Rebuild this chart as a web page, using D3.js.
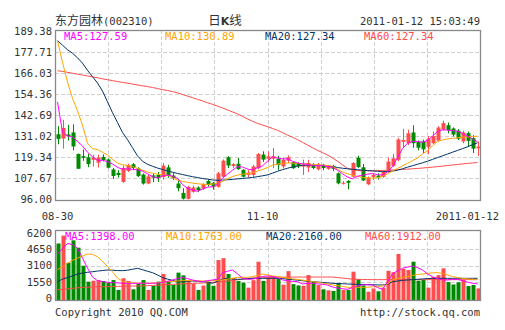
<!DOCTYPE html>
<html><head><meta charset="utf-8">
<script src="https://cdn.jsdelivr.net/npm/d3@7"></script>
<style>
body{margin:0;background:#fff;}
svg{display:block;}
text{font-family:"DejaVu Sans Mono",monospace;font-size:10px;fill:#333;}
</style>
</head><body>
<svg id="c" width="505" height="330"></svg>
<script>
// ---------- data ----------
const openP = [132.0,129.6,131.9,133.0,121.0,119.8,119.2,117.8,116.2,119.4,
118.0,112.4,110.5,105.5,111.6,115.3,113.0,109.6,104.6,109.1,
109.4,108.2,113.6,109.0,104.6,99.4,96.1,100.0,102.4,101.8,
106.0,105.0,102.8,108.4,119.2,114.3,115.6,112.2,109.4,109.4,
113.1,120.7,118.4,118.4,118.4,114.1,117.3,116.5,116.0,114.0,
113.5,115.0,112.5,115.0,112.8,114.2,110.3,104.6,106.0,108.4,
119.0,113.6,104.2,108.3,109.0,108.3,111.1,114.4,117.8,127.8,
127.0,133.0,127.8,128.0,125.0,127.0,128.5,134.6,137.0,135.2,
134.0,128.0,132.6,129.8,124.2];
const highP = [136.5,140.0,137.2,137.5,121.3,123.5,121.0,120.5,120.6,120.8,
118.5,113.3,112.0,114.6,115.6,116.0,113.6,110.2,109.5,110.3,
111.0,116.0,115.0,110.3,106.0,102.0,103.3,103.5,103.0,104.8,
106.8,105.5,111.0,118.0,119.8,116.0,118.8,112.6,112.0,115.0,
121.5,122.5,122.5,124.4,120.0,119.0,120.2,117.0,116.5,117.9,
117.8,116.0,116.0,115.5,115.0,115.0,110.8,106.0,106.5,116.5,
120.0,115.5,108.5,110.0,110.3,111.5,119.0,121.0,130.0,135.0,
134.5,137.0,128.5,129.0,131.0,133.5,136.5,139.5,138.5,135.8,
134.8,134.0,133.5,131.5,128.0];
const lowP = [126.4,124.0,128.5,123.0,112.7,117.2,113.7,114.0,113.5,116.9,
113.0,107.2,107.9,105.0,111.0,112.0,108.2,104.0,104.2,105.4,
105.5,106.8,107.8,106.5,100.3,95.7,95.8,99.5,99.8,101.0,
103.0,101.2,102.3,108.0,113.2,113.2,112.2,108.0,108.2,108.2,
112.5,116.6,116.5,113.1,112.0,113.0,116.0,112.8,113.2,109.4,
111.0,112.5,112.0,112.0,112.2,111.5,104.2,104.0,101.4,108.0,
113.3,106.0,103.7,106.5,106.8,107.8,110.6,113.8,117.0,124.5,
126.0,124.5,123.0,121.5,120.8,126.5,128.0,134.0,132.5,130.8,
128.8,127.0,125.0,121.5,120.0];
const closeP = [129.4,135.5,131.0,125.2,112.8,118.9,115.4,119.0,119.0,117.6,
113.4,108.8,109.3,113.3,114.8,113.2,108.7,104.6,108.6,107.9,
107.7,114.5,108.8,107.6,102.0,96.2,102.7,102.4,100.8,104.2,
103.8,102.8,110.3,117.3,114.6,115.4,112.6,108.4,110.7,114.1,
121.0,117.9,119.7,119.7,115.0,117.8,119.2,113.1,114.2,115.2,
116.0,113.2,115.0,113.2,114.2,112.8,104.7,105.0,105.0,116.0,
113.8,106.3,107.9,109.4,108.0,111.1,116.8,118.6,129.1,128.8,
132.5,127.0,124.5,123.6,129.5,131.0,135.7,138.2,134.2,131.8,
129.5,133.0,128.3,124.0,125.2];
const volume = [5200,5950,3370,5500,4800,3080,1560,1650,1710,1620,
1460,1710,770,1880,1620,830,1340,1710,770,1150,
1560,2290,1620,1240,2420,2160,1620,1340,770,1190,
1520,1160,3620,3800,2290,1880,1620,1460,990,1700,
3460,1630,2030,2030,1840,1270,2560,1320,1200,1160,
2190,1550,1240,830,730,670,1430,760,760,2510,
1790,1200,600,910,640,990,2590,2460,4200,2770,
2670,3460,1650,1715,985,2000,2180,2830,1520,1290,
1500,1715,1145,1240,920];

const ma5 = [150,133,131,130.5,128,125.5,122,119.5,117.5,117.5,
116.8,115.5,113.6,112.5,112.8,112.5,112.2,111.5,110,108.5,
107.5,109,109.3,108.7,107.5,104,102,101,100.3,101.5,
102.6,102.8,104.2,107.6,109.8,112,114,113.8,112.6,112.2,
113.4,114.4,117,119.5,118.8,118.3,118.3,117,116,115.5,
115.3,114.5,114.5,114.6,114,113.6,112,110,108.2,107.2,
108.7,109.2,109.8,110.2,109.5,109.3,111,114,119,124,
127,128,128,127.5,128.5,131,133.5,134.5,134.3,134,
133.7,132.5,131,129.3,127.8];
const ma10 = [184,172,161,152,145,137,127,124,123.5,122,
120.5,118,116,115,114.7,114,113,112,111,110.3,
109.8,109.5,109.2,107.8,106.5,105.8,105.3,104.8,104.5,104.2,
104.1,104.3,104.6,105.8,107.3,108.5,109.3,109.8,110.1,110.6,
111.5,112.4,113.5,114.8,115.4,115.8,116,116,115.8,115.6,
115.4,115.2,115,114.8,114.6,114.2,112.5,111,110,109.3,
108.5,108,107.7,107.6,107.8,108.6,110,111.5,113,114.4,
115.8,117.3,118.8,121,123,125.5,128,128.8,129.4,129.7,
130,130.3,130.5,130.7,130.9];
const ma20 = [184,181.5,179,177,174.5,171.5,167.5,164,160.5,156,
150,144,138.5,133,129,124.5,120,117,115.3,114.2,
113.2,112.4,111.6,110.9,110.2,109.6,109,108.4,107.9,107.4,
107,106.6,106.4,106.5,106.7,106.9,107.2,107.4,107.7,108,
108.4,108.9,109.4,110.4,111.4,112.3,113.1,113.8,114.3,114.7,
114.9,114.9,114.8,114.6,114.3,114,113.5,113.1,112.8,112.5,
112.3,112,111.8,111.6,111.4,111.3,111.2,111.5,112,112.8,
113.7,114.5,115.3,116.1,117,118,119,120,121,122,
123,124,125,126.2,127.2];
const ma60 = [167.3,166.9,166.4,165.9,165.4,164.9,164.4,163.9,163.4,162.8,
162.3,161.8,161.3,160.8,160.4,159.9,159.4,158.9,158.5,158,
157.4,156.8,156.3,155.7,155,154.1,153.2,152.3,151.4,150.5,
149.5,148.6,147.6,146.6,145.5,144.4,143.3,141.9,140.5,139.2,
138,137.1,136.2,135.2,134.2,132.9,131.5,130.3,129,127.5,
126,124.5,123,121.8,120.5,118.8,117,115,113,112.4,
111.8,111.7,111.7,111.7,111.8,111.9,112,112.1,112.3,112.4,
112.6,112.8,113,113.2,113.5,113.7,114,114.3,114.6,114.9,
115.2,115.5,115.8,116,116.3];

const vma5 = [4200,4700,5200,5100,4750,3800,2850,2000,1650,1560,
1500,1470,1440,1410,1400,1400,1400,1410,1400,1400,
1420,1500,1600,1720,1850,1970,1850,1720,1620,1560,
1650,1720,1780,2400,2550,2670,2300,1900,1780,1800,
1900,2050,2100,2050,1950,1720,1650,1580,1560,1340,
1400,1400,1350,1300,1240,1050,950,880,830,1000,
1150,1250,1260,1240,1000,830,1550,2300,2600,2830,
2950,3050,2900,2670,2300,2030,1850,1720,1720,1780,
1780,1650,1520,1400,1350];
const vma10 = [2700,3000,3300,3600,3800,4000,4200,4150,3950,3500,
3000,2500,1900,1600,1480,1460,1420,1400,1400,1420,
1450,1520,1560,1580,1620,1650,1660,1650,1640,1620,
1620,1640,1680,1720,1800,1880,1970,1970,1970,2050,
2150,2290,2200,2100,2050,1970,1900,1830,1780,1700,
1650,1560,1500,1420,1340,1240,1180,1100,1020,1020,
1020,1020,1030,1060,1100,1145,1350,1717,1850,1950,
2035,2150,2250,2290,2350,2400,2417,2350,2194,2050,
1950,1876,1820,1790,1763];
const vma20 = [1550,1800,1950,2100,2290,2380,2450,2510,2570,2620,
2671,2650,2620,2607,2650,2740,2830,2700,2550,2417,
2200,1950,1800,1680,1558,1560,1600,1622,1600,1560,
1540,1400,1600,1800,1876,1820,1780,1800,1850,1876,
1876,1876,1876,1876,1876,1850,1800,1750,1700,1650,
1600,1558,1520,1480,1440,1400,1380,1360,1336,1320,
1300,1290,1280,1260,1250,1240,1300,1558,1620,1680,
1717,1750,1780,1820,1850,1876,1876,1876,1876,1876,
1876,1876,1876,1876,1876];
const vma60 = [780,820,870,920,970,1010,1030,1050,1070,1080,
1090,1100,1110,1120,1130,1140,1150,1160,1180,1200,
1220,1250,1280,1300,1330,1350,1370,1390,1410,1430,
1450,1480,1520,1570,1620,1680,1740,1800,1850,1900,
1950,1970,1970,1975,1980,1985,1990,1995,2000,2000,
2000,2000,2000,2000,2000,2000,1950,1900,1850,1800,
1780,1770,1760,1750,1750,1750,1750,1750,1750,1750,
1750,1750,1750,1750,1750,1750,1750,1750,1750,1750,
1750,1750,1750,1750,1750];

const priceTicks = ["96.00","107.67","119.34","131.02","142.69","154.36","166.03","177.71","189.38"];
const volTicks = ["0","1550","3100","4650","6200"];
const xTickIndex = [0, 41, 84];
const xTickLabels = ["08-30", "11-10", "2011-01-12"];
const maNames = ["MA5:127.59","MA10:130.89","MA20:127.34","MA60:127.34"];
const volMaNames = ["MA5:1398.00","MA10:1763.00","MA20:2160.00","MA60:1912.00"];
const stockName = "东方园林";
const stockCode = "(002310)";
const chartTitle = ["日","K","线"];
const timeStamp = "2011-01-12 15:03:49";
const leftFoot = "Copyright 2010 QQ.COM";
const rightFoot = "http://stock.qq.com";

// ---------- layout ----------
const L = 55, R = 480;
const mainTop = 30, mainBot = 200;
const volTop = 230, volBot = 300;
const UP = "#ff4c4c", DOWN = "#008a00";
const maColors = ["#ff00ff", "#ffa500", "#003366", "#ff4c4c"];
const n = closeP.length;

const svg = d3.select("#c");
const x = d3.scaleBand().domain(d3.range(n)).range([L, R]).paddingInner(0.2).paddingOuter(0.1);
const xc = i => x(i) + x.bandwidth() / 2;
const y = d3.scaleLinear().domain([96, 189.38]).range([199, 31]);
const yv = d3.scaleLinear().domain([0, 6200]).range([298, 233]);
const xGrid = d3.scaleLinear().domain([0, 8]).range([L, R]);

const defs = svg.append("defs");
defs.append("clipPath").attr("id", "clipMain").append("rect")
  .attr("x", L).attr("y", mainTop + 1).attr("width", R - L).attr("height", mainBot - mainTop - 1);
defs.append("clipPath").attr("id", "clipVol").append("rect")
  .attr("x", L).attr("y", volTop + 1).attr("width", R - L).attr("height", volBot - volTop - 1);

// grid
function vGrid(top, bot) {
  svg.append("g").selectAll("line").data(d3.range(1, 8)).join("line")
    .attr("x1", d => Math.round(xGrid(d)) + 0.5).attr("x2", d => Math.round(xGrid(d)) + 0.5)
    .attr("y1", top).attr("y2", bot)
    .attr("stroke", "#d0d0d0").attr("stroke-dasharray", "4,2");
}
vGrid(mainTop, mainBot);
vGrid(volTop, volBot);
svg.append("g").selectAll("line").data(priceTicks.slice(1, -1)).join("line")
  .attr("x1", L).attr("x2", R)
  .attr("y1", d => Math.round(y(+d)) + 0.5).attr("y2", d => Math.round(y(+d)) + 0.5)
  .attr("stroke", "#d0d0d0").attr("stroke-dasharray", "4,2");
svg.append("g").selectAll("line").data(volTicks.slice(1, -1)).join("line")
  .attr("x1", L).attr("x2", R)
  .attr("y1", d => Math.round(yv(+d)) + 0.5).attr("y2", d => Math.round(yv(+d)) + 0.5)
  .attr("stroke", "#d0d0d0").attr("stroke-dasharray", "4,2");

// candles
const cg = svg.append("g").attr("clip-path", "url(#clipMain)");
const idx = d3.range(n);
cg.selectAll("line.wick").data(idx).join("line")
  .attr("x1", i => Math.round(xc(i)) + 0.5).attr("x2", i => Math.round(xc(i)) + 0.5)
  .attr("y1", i => y(highP[i])).attr("y2", i => y(lowP[i]))
  .attr("stroke", i => closeP[i] >= openP[i] ? UP : DOWN);
cg.selectAll("rect.body").data(idx).join("rect")
  .attr("x", i => Math.round(xc(i)) - 1.5).attr("width", 4)
  .attr("y", i => y(Math.max(openP[i], closeP[i])))
  .attr("height", i => Math.max(1, Math.abs(y(openP[i]) - y(closeP[i]))))
  .attr("fill", i => closeP[i] >= openP[i] ? UP : DOWN);

// MA lines
const lineP = d3.line().x((d, i) => xc(i)).y(d => y(d));
[ma60, ma20, ma10, ma5].forEach((arr, k) => {
  cg.append("path").datum(arr).attr("d", lineP).attr("fill", "none")
    .attr("stroke", maColors[3 - k]).attr("stroke-width", 1);
});

// volume bars
const vg = svg.append("g").attr("clip-path", "url(#clipVol)");
vg.selectAll("rect").data(idx).join("rect")
  .attr("x", i => Math.round(xc(i)) - 1.5).attr("width", 4)
  .attr("y", i => yv(volume[i])).attr("height", i => volBot - yv(volume[i]))
  .attr("fill", i => closeP[i] >= openP[i] ? UP : DOWN);
const lineV = d3.line().x((d, i) => xc(i)).y(d => yv(d));
[vma60, vma20, vma10, vma5].forEach((arr, k) => {
  vg.append("path").datum(arr).attr("d", lineV).attr("fill", "none")
    .attr("stroke", maColors[3 - k]).attr("stroke-width", 1);
});

// frames
svg.append("rect").attr("x", L + 0.5).attr("y", mainTop + 0.5).attr("width", R - L).attr("height", mainBot - mainTop)
  .attr("fill", "none").attr("stroke", "#888").attr("stroke-width", 1.3);
svg.append("rect").attr("x", L + 0.5).attr("y", volTop + 0.5).attr("width", R - L).attr("height", volBot - volTop)
  .attr("fill", "none").attr("stroke", "#888").attr("stroke-width", 1.3);

// y labels
svg.append("g").selectAll("text").data(priceTicks).join("text")
  .attr("x", 52).attr("y", d => y(+d)).attr("dy", "0.36em").attr("text-anchor", "end")
  .style("font-size", "10.5px").text(d => d);
svg.append("g").selectAll("text").data(volTicks).join("text")
  .attr("x", 52).attr("y", d => yv(+d)).attr("dy", "0.36em").attr("text-anchor", "end")
  .style("font-size", "10.5px").text(d => d);

// x labels
svg.append("g").selectAll("text").data(xTickIndex).join("text")
  .attr("x", (d, k) => k === xTickLabels.length - 1 ? 499 : xc(d))
  .attr("y", 220)
  .attr("text-anchor", (d, k) => k === xTickLabels.length - 1 ? "end" : "middle")
  .style("font-size", "10.5px")
  .text((d, k) => xTickLabels[k]);

// MA legends
const maX = [64, 165, 265, 364];
svg.append("g").selectAll("text").data(maNames).join("text")
  .attr("x", (d, k) => maX[k]).attr("y", 40).style("fill", (d, k) => maColors[k])
  .style("font-size", "10.5px").text(d => d);
svg.append("g").selectAll("text").data(volMaNames).join("text")
  .attr("x", (d, k) => maX[k] + 1).attr("y", 240).style("fill", (d, k) => maColors[k])
  .style("font-size", "10.5px").text(d => d);

// header
const h = svg.append("text").attr("x", 55).attr("y", 25);
h.append("tspan").style("font-family", "'Noto Sans CJK SC'").style("font-size", "12px").text(stockName);
h.append("tspan").style("font-size", "10.5px").text(stockCode);
const t = svg.append("text").attr("x", 225).attr("y", 25).attr("text-anchor", "middle");
t.append("tspan").style("font-family", "'Noto Sans CJK SC'").style("font-size", "12.5px").text(chartTitle[0]);
t.append("tspan").style("font-family", "'DejaVu Sans'").style("font-size", "11px").style("font-weight", "bold").text(chartTitle[1]);
t.append("tspan").style("font-family", "'Noto Sans CJK SC'").style("font-size", "12.5px").text(chartTitle[2]);
svg.append("text").attr("x", 480).attr("y", 25).attr("text-anchor", "end").style("font-size", "10.5px").text(timeStamp);

// footer
svg.append("text").attr("x", 55).attr("y", 316).style("font-size", "10.5px").text(leftFoot);
svg.append("text").attr("x", 480).attr("y", 316).attr("text-anchor", "end").style("font-size", "10.5px").text(rightFoot);
</script>
</body></html>
